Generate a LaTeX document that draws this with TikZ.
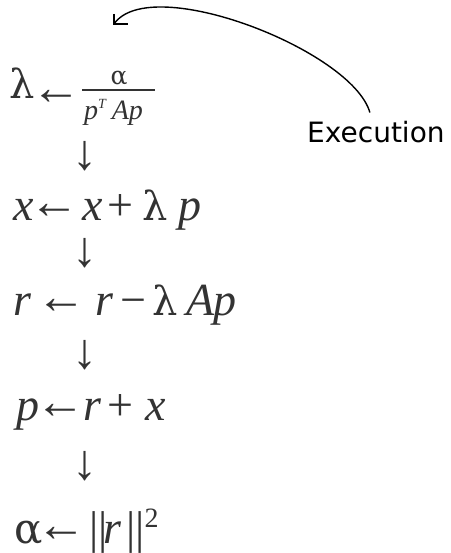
\documentclass[tikz,border=0pt]{standalone}
\usepackage{fontspec}
\setmainfont{Liberation Serif}
\newfontfamily\dejavu{DejaVu Sans}
\newfontfamily\grk{DejaVu Serif}
\newcommand\At[2]{\rlap{\hspace*{#1pt}#2}}
\newcommand\Lar[1][0]{\raisebox{#1pt}{\fontsize{50}{50}\selectfont ←}}
\newcommand\Lam{{\grk\fontsize{40}{40}\selectfont λ}}
\newcommand\It[1]{\textit{#1}}
\begin{document}
\begin{tikzpicture}[x=1pt,y=-1pt,
  row/.style={anchor=base west,inner sep=0pt,text=black!80,font=\fontsize{46}{46}\selectfont},
  small/.style={inner sep=0pt,text=black!80,font=\fontsize{28}{28}\selectfont},
  darr/.style={inner sep=0pt,text=black!80,font=\fontsize{50}{50}\selectfont},
  lbl/.style={anchor=base west,inner sep=0pt,font=\dejavu\fontsize{28}{28}\selectfont}]
\useasboundingbox (0,0) rectangle (450,553);
% row 1
\node[row] (r1) at (0,99) {\At{9}{\Lam}\At{31}{\Lar[-6]}};
\node[small,anchor=base] (num) at (119,85) {{\grk\fontsize{25}{25}\selectfont α}};
\node[inner sep=0pt,fill=black!80,minimum width=73pt,minimum height=1.4pt] (bar) at (118.5,90) {};
\node[small,anchor=base west] (den) at (84,120) {\It{p}\raisebox{11pt}{\fontsize{14}{14}\selectfont\It{T}}\hspace{5pt}\It{Ap}};
\node[darr] (d1) at (85,156) {↓};
% row 2
\node[row] (r2) at (0,220) {\At{13}{\It{x}}\At{29}{\Lar[2]}\At{82}{\It{x}}\At{107}{+}\At{142}{\Lam}\At{178}{\It{p}}};
\node[darr] (d2) at (85,253) {↓};
% row 3
\node[row] (r3) at (0,315) {\At{13}{\It{r}}\At{36}{\Lar[2]}\At{95}{\It{r}}\At{120}{−}\At{152}{\Lam}\At{186}{\It{A}}\At{213}{\It{p}}};
\node[darr] (d3) at (85,355) {↓};
% row 4
\node[row] (r4) at (0,420) {\At{16}{\It{p}}\At{35}{\Lar[2]}\At{83}{\It{r}}\At{107}{+}\At{145}{\It{x}}};
\node[darr] (d4) at (85,466) {↓};
% row 5
\node[row] (r5) at (0,543) {\At{14}{{\grk\fontsize{42}{42}\selectfont α}}\At{36}{\Lar[2]}\At{89}{||}\At{103}{\It{r}}\At{126}{||}\At{144}{\raisebox{16pt}{\fontsize{28}{28}\selectfont 2}}};
% label and curve
\node[lbl] (ex) at (307,143) {Execution};
\coordinate (tip) at (114,24);
\draw[line width=1.4pt] (ex.north) ++(-6,-9) .. controls (352,50) and (150,-28) .. (tip);
\draw[line width=1.6pt] (tip) ++(0,-10) -- (tip) -- ++(14,0);
\end{tikzpicture}
\end{document}
